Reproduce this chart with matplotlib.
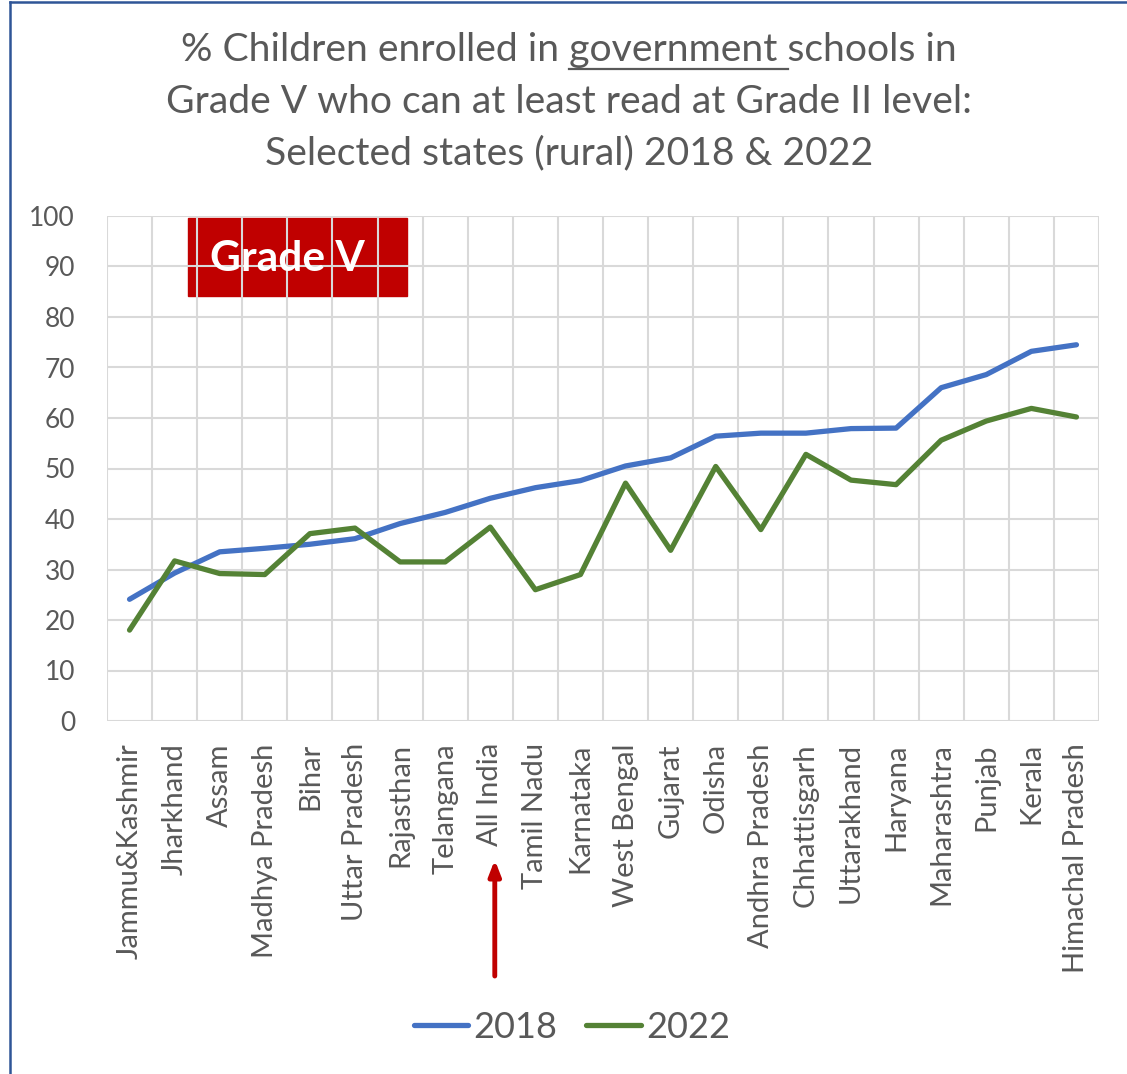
import matplotlib

matplotlib.use("Agg")
import matplotlib.pyplot as plt
from matplotlib.lines import Line2D
from matplotlib.patches import Rectangle
import matplotlib.transforms as mtransforms

# --- data -------------------------------------------------------------------

states = ["Jammu&Kashmir", "Jharkhand", "Assam", "Madhya Pradesh", "Bihar",
          "Uttar Pradesh", "Rajasthan", "Telangana", "All India", "Tamil Nadu",
          "Karnataka", "West Bengal", "Gujarat", "Odisha", "Andhra Pradesh",
          "Chhattisgarh", "Uttarakhand", "Haryana", "Maharashtra", "Punjab",
          "Kerala", "Himachal Pradesh"]
y2018 = [24.1, 29.3, 33.5, 34.2, 35.0, 36.1, 39.1, 41.3, 44.1, 46.2, 47.6,
         50.5, 52.1, 56.4, 57.0, 57.0, 57.9, 58.0, 66.0, 68.6, 73.2, 74.5]
y2022 = [18.0, 31.7, 29.2, 29.0, 37.1, 38.2, 31.5, 31.5, 38.4, 26.0, 29.0,
         47.1, 33.8, 50.4, 37.9, 52.8, 47.7, 46.8, 55.6, 59.4, 61.9, 60.2]
years = ["2018", "2022"]
yticks = list(range(0, 101, 10))

TXT = "#595959"
GRID = "#d9d9d9"
BLUE = "#4472c4"
GREEN = "#548235"
RED = "#c00000"
FONT = "Lato"

plt.rcParams["font.family"] = [FONT, "DejaVu Sans"]

fig = plt.figure(figsize=(11.27, 10.74), dpi=100)
W, H = 1127, 1074
ax = fig.add_axes([107 / W, 1 - 721 / H, 992 / W, 505 / H])

x = list(range(len(states)))
ax.plot(x, y2018, color=BLUE, lw=3.8, solid_capstyle="round",
        solid_joinstyle="round", label=years[0], zorder=4)
ax.plot(x, y2022, color=GREEN, lw=3.8, solid_capstyle="round",
        solid_joinstyle="round", label=years[1], zorder=4)

ax.set_xlim(-0.5, len(states) - 0.5)
ax.set_ylim(0, 100)
ax.set_yticks(yticks)
ax.set_xticks(x)
ax.set_xticklabels(states, rotation=90, va="top", ha="center")
ax.tick_params(axis="both", length=0, labelcolor=TXT)
ax.tick_params(axis="x", pad=16, labelsize=21)
ax.tick_params(axis="y", pad=23, labelsize=19)
for sp in ax.spines.values():
    sp.set_visible(False)

# gridlines: horizontal at ticks, vertical at category boundaries
for v in yticks:
    ax.axhline(v, color=GRID, lw=1.5, zorder=2)
for b in range(len(states) + 1):
    ax.axvline(b - 0.5, color=GRID, lw=1.5, zorder=2)

# "Grade V" badge (grid shows through it)
ax.add_patch(Rectangle((1.3, 84.2), 4.86, 15.4, color=RED, zorder=1))
ax.text(3.49, 91.4, "Grade V", color="white", fontsize=30.5, fontweight="bold",
        ha="center", va="center", zorder=3)

# red arrow pointing at All India
trans = mtransforms.blended_transform_factory(ax.transData, ax.transAxes)
ax.annotate("", xy=(8.1, -0.275), xycoords=trans,
            xytext=(8.1, -0.505), textcoords=trans,
            arrowprops=dict(arrowstyle="-|>,head_length=0.9,head_width=0.35",
                            color=RED, lw=3.5, shrinkA=0, shrinkB=0),
            annotation_clip=False)

# title, first line has an underlined word
fs_title = 28.2
lines = ["% Children enrolled in government schools in",
         "Grade V who can at least read at Grade II level:",
         "Selected states (rural) 2018 & 2022"]
line_y = [50, 102, 153]
tobjs = []
for s, yy in zip(lines, line_y):
    tobjs.append(fig.text(569 / W, 1 - yy / H, s, ha="center", va="center",
                          fontsize=fs_title, color=TXT))

renderer = fig.canvas.get_renderer()
full = tobjs[0].get_window_extent(renderer)
pre = fig.text(0, 0, "% Children enrolled in ", fontsize=fs_title)
word = fig.text(0, 0, "government ", fontsize=fs_title)
pw = pre.get_window_extent(renderer).width
ww = word.get_window_extent(renderer).width
pre.remove()
word.remove()
x0 = full.x0 + pw
uy = 1 - 69 / H
fig.add_artist(Line2D([x0 / W, (x0 + ww) / W], [uy, uy], color=TXT, lw=1.6))

# legend
fig.legend(loc="center", bbox_to_anchor=(572 / W, 1 - 1027 / H), ncol=2,
           frameon=False, fontsize=26, labelcolor=TXT, handlelength=1.5,
           handletextpad=0.15, columnspacing=0.8)

# blue frame around the chart
border = "#2f5597"
fig.add_artist(Line2D([10 / W, 10 / W], [0, 1 - 2 / H], color=border, lw=1.8))
fig.add_artist(Line2D([10 / W, 1], [1 - 2 / H, 1 - 2 / H], color=border, lw=1.8))

fig.savefig("out.png", dpi=100)
